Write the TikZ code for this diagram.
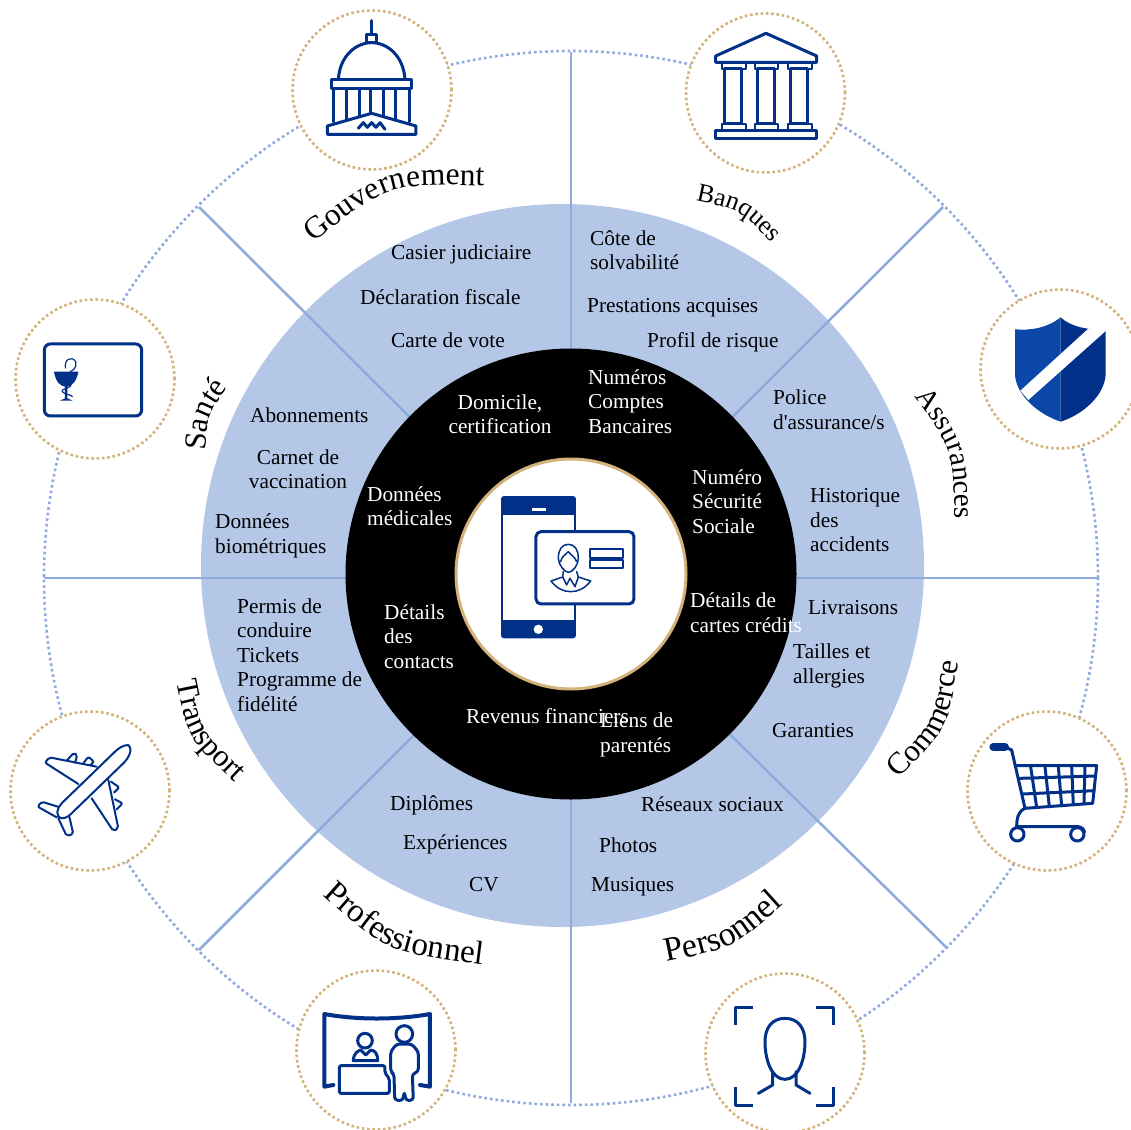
\documentclass[tikz,border=0pt]{standalone}
\usepackage{fontspec}
\setmainfont{Liberation Serif}[Ligatures=TeXOff]
\usetikzlibrary{decorations.text}
\definecolor{myblue1}{RGB}{180,199,231}
\definecolor{myblue2}{RGB}{143,170,220}
\definecolor{mynavy}{RGB}{0,48,135}
\definecolor{myroyal}{RGB}{10,71,169}
\definecolor{mygold}{RGB}{212,178,124}
\newcommand{\arcfont}[1]{\fontsize{#1}{#1}\selectfont}
\newcommand{\arclabel}[5]{\path[decorate,decoration={text along path,text align=center,text={|\arcfont{#1}|#5}}] #2 .. controls #3 .. #4;}

\begin{document}
\begin{tikzpicture}[x=1pt,y=-1pt,
spoke/.style={myblue2,line width=2.5pt},
disc/.style={circle,inner sep=0pt,outer sep=0pt},
badge/.style={disc,minimum size=159pt,fill=white,draw=mygold,line width=2.6pt,dash pattern=on 2.6pt off 2.7pt},
item/.style={anchor=west,inner sep=0pt,align=left,font=\fontsize{21.3}{24.5}\selectfont},
wbox/.style={item,text=white},
icon/.style={mynavy,line width=3pt,line join=round,line cap=round},
thin icon/.style={mynavy,line width=2pt,line join=round,line cap=round}]
\useasboundingbox (0,0) rectangle (1131,1129);

% spokes
\coordinate (hub) at (571,578);
\coordinate (inner) at (571,574);
\coordinate (spokeN) at (571,52);
\coordinate (spokeS) at (571,1103);
\coordinate (spokeW) at (44,578);
\coordinate (spokeE) at (1099,578);
\coordinate (spokeNW) at (199,207);
\coordinate (spokeNE) at (943,207);
\coordinate (spokeSW) at (199,950);
\coordinate (spokeSE) at (947,948);

% rings
\node[disc,minimum size=1054pt,draw=myblue2,line width=2.6pt,dash pattern=on 2.6pt off 3pt](outerring) at (hub){};
\node[disc,minimum size=723pt,fill=myblue1](bluedisc) at (562.5,565.5){};
\foreach \s in {N,S,W,E,NW,NE,SW,SE}
  \draw[spoke] (hub) -- (spoke\s);
\node[disc,minimum size=451pt,fill=black](blackdisc) at (inner){};
\node[disc,minimum size=230pt,fill=white,draw=mygold,line width=3pt](whitedisc) at (inner){};

% badges
\node[badge](bgov) at (372,90){};
\node[badge](bbank) at (765.5,93){};
\node[badge](bshield) at (1060,369){};
\node[badge](bcart) at (1047,791){};
\node[badge](bface) at (785,1053){};
\node[badge](bpro) at (376,1050){};
\node[badge](bplane) at (90,791){};
\node[badge](bhealth) at (95,379){};

% curved labels
\arclabel{31.5}{(310,245)}{(389,183)}{(488,186)}{Gouvernement}
\arclabel{26}{(693,200)}{(741,210)}{(774,245)}{Banques}
\arclabel{29}{(913,395)}{(953,448)}{(955,521)}{Assurances}
\arclabel{31}{(899,778)}{(948,728)}{(958,663)}{Commerce}
\arclabel{34}{(661,963)}{(735,948)}{(788,900)}{Personnel}
\arclabel{33}{(319,892)}{(386,952)}{(488,965)}{Professionnel}
\arclabel{31}{(176,678)}{(188,738)}{(237,785)}{Transport}
\arclabel{31}{(205,454)}{(208,414)}{(230,384)}{Santé}

% blue ring texts
\node[item](casier) at (391,254){Casier judiciaire};
\node[item](fiscale) at (360,297){Déclaration fiscale};
\node[item](vote) at (391,340){Carte de vote};
\node[item](cote) at (590,250){Côte de\\solvabilité};
\node[item](prestations) at (587,308){Prestations acquises};
\node[item](risque) at (647,342){Profil de risque};
\node[item](police) at (773,409.5){Police\\d'assurance/s};
\node[item](historique) at (810,520.5){Historique\\des\\accidents};
\node[item](livraisons) at (808,607.5){Livraisons};
\node[item](tailles) at (793,666){Tailles et\\allergies};
\node[item](garanties) at (772,731){Garanties};
\node[item](reseaux) at (641,804){Réseaux sociaux};
\node[item](photos) at (599,845){Photos};
\node[item](musiques) at (591,887){Musiques};
\node[item](diplomes) at (390,805){Diplômes};
\node[item](experiences) at (403,844){Expériences};
\node[item](cv) at (469,885){CV};
\node[item](permis) at (237,655){Permis de\\conduire\\Tickets\\Programme de\\fidélité};
\node[item](abonnements) at (250,415){Abonnements};
\node[item,anchor=center,align=center](carnet) at (298,469){Carnet de\\vaccination};
\node[item](biometriques) at (215,536){Données\\biométriques};

% black ring texts
\node[wbox,anchor=center,align=center](domicile) at (500,414){Domicile,\\certification};
\node[wbox](comptes) at (588,401.5){Numéros\\Comptes\\Bancaires};
\node[wbox](secu) at (692,501.5){Numéro\\Sécurité\\Sociale};
\node[wbox](cartes) at (690,612.5){Détails de\\cartes crédits};
\node[wbox](revenus) at (466,716){Revenus financiers};
\node[wbox](liens) at (600,735){Liens de\\parentés};
\node[wbox](contacts) at (384,636.5){Détails\\des\\contacts};
\node[wbox](medicales) at (367,506){Données\\médicales};

% government
\begin{scope}[shift={(280,0)},scale=0.3333]
\draw[icon] (275,62) -- (275,100);
\draw[icon] (260,128) rectangle (290,103);
\draw[icon] (175,238) .. controls (180,165) and (230,128) .. (275,128) .. controls (320,128) and (370,165) .. (375,238);
\draw[icon] (155,240) rectangle (395,265);
\foreach \x in {162,200,238,272,310,348,388}
  \draw[icon] (\x,265) -- (\x,365);
\draw[icon,fill=white] (142,378) -- (275,340) -- (408,378) -- (408,403) -- (142,403) -- cycle;
\draw[icon] (235,385) -- (250,368) -- (262,382) -- (275,368) -- (288,382) -- (300,368) -- (315,388);
\end{scope}

% bank
\begin{scope}[shift={(670,0)},scale=0.3333]
\draw[icon] (137,168) -- (288,100) -- (440,168) -- (440,187) -- (137,187) -- cycle;
\foreach \x in {157,254,355}{
  \draw[thin icon] (\x,187) rectangle (\x+70,207);
  \draw[icon] (\x+7,207) rectangle (\x+58,372);
  \draw[thin icon] (\x,372) rectangle (\x+70,392);
}
\draw[icon] (137,392) rectangle (440,415);
\end{scope}

% shield
\begin{scope}[shift={(960,280)},scale=0.3333]
\fill[myroyal] (302,112) .. controls (260,145) and (210,152) .. (165,148) -- (165,285) .. controls (170,350) and (240,405) .. (302,425) -- cycle;
\fill[mynavy] (302,112) .. controls (330,140) and (390,152) .. (437,148) -- (437,285) .. controls (432,350) and (365,405) .. (302,425) -- cycle;
\fill[white] (385,146) -- (445,146) -- (205,360) -- (181,332) -- cycle;
\end{scope}

% cart
\begin{scope}[shift={(960,700)},scale=0.3333]
\draw[mynavy,line width=8pt,line cap=round] (100,141) -- (135,141);
\draw[icon] (135,141) -- (155,150) -- (195,325) .. controls (172,335) and (170,360) .. (170,380) -- (355,380) .. controls (368,382) and (372,390) .. (374,396);
\draw[icon] (170,197) -- (410,197) -- (398,310) -- (195,325);
\draw[icon] (180,235) -- (407,228);
\draw[icon] (190,282) -- (403,272);
\draw[icon] (212,200) -- (230,322);
\draw[icon] (255,200) -- (268,320);
\draw[icon] (295,200) -- (305,318);
\draw[icon] (335,200) -- (340,313);
\draw[icon] (375,200) -- (372,310);
\draw[icon,fill=white] (172,403) circle (20);
\draw[icon,fill=white] (352,403) circle (20);
\end{scope}

% face
\begin{scope}[shift={(700,970)},scale=0.3333]
\draw[icon,line cap=butt] (160,112) -- (105,112) -- (105,165);
\draw[icon,line cap=butt] (347,112) -- (402,112) -- (402,165);
\draw[icon,line cap=butt] (105,352) -- (105,406) -- (160,406);
\draw[icon,line cap=butt] (402,352) -- (402,406) -- (347,406);
\draw[icon] (255,145) .. controls (215,145) and (195,175) .. (195,215) .. controls (195,270) and (215,328) .. (255,328) .. controls (295,328) and (315,270) .. (315,215) .. controls (315,175) and (295,145) .. (255,145) -- cycle;
\draw[icon] (218,305) -- (218,345) -- (175,370);
\draw[icon] (288,305) -- (288,345) -- (330,370);
\end{scope}

% professional
\begin{scope}[shift={(290,970)},scale=0.3333]
\draw[mynavy,line width=4pt,line join=round,line cap=round] (130,345) -- (103,350) -- (103,132) .. controls (200,150) and (320,150) .. (420,132) -- (420,350) -- (390,345);
\draw[icon] (225,212) circle (22);
\draw[icon] (190,272) .. controls (190,250) and (205,242) .. (212,240) -- (227,255) -- (242,240) .. controls (255,242) and (263,250) .. (263,272) -- cycle;
\draw[icon,fill=white,rounded corners=2pt] (148,287) -- (285,287) -- (285,310) -- (298,325) -- (298,370) -- (148,370) -- cycle;
\draw[icon] (343,192) circle (25);
\draw[icon,fill=white,rounded corners=3pt] (302,245) -- (320,222) -- (365,222) -- (385,245) -- (385,305) -- (367,312) -- (370,390) -- (348,392) -- (343,365) -- (338,392) -- (314,390) -- (312,312) -- (302,305) -- cycle;
\end{scope}

% plane
\begin{scope}[shift={(0,700)},scale=0.3333]
\draw[thin icon,rounded corners=2pt] (290,200) -- (148,172) -- (135,188) -- (235,252);
\draw[thin icon,rounded corners=2pt] (325,240) -- (355,385) -- (340,393) -- (275,295);
\draw[thin icon,rounded corners=2pt] (200,182) -- (222,158) -- (232,165) -- (225,188);
\draw[thin icon,rounded corners=2pt] (250,190) -- (265,170) -- (282,185) -- (272,195);
\draw[thin icon,rounded corners=2pt] (333,245) -- (358,262) -- (342,278);
\draw[thin icon,rounded corners=2pt] (345,298) -- (368,310) -- (350,328);
\draw[thin icon,rounded corners=2pt] (180,322) -- (125,305) -- (113,320) -- (170,352);
\draw[thin icon,rounded corners=2pt] (175,355) -- (200,408) -- (220,402) -- (208,350);
\draw[thin icon,fill=white] (385,135) .. controls (370,135) and (355,145) .. (345,155) -- (185,310) .. controls (170,325) and (165,350) .. (185,355) .. controls (200,355) and (210,345) .. (220,335) -- (370,190) .. controls (385,175) and (400,150) .. (385,135) -- cycle;
\end{scope}

% health card
\begin{scope}[shift={(5,290)},scale=0.3333]
\draw[icon,rounded corners=6pt] (118,162) rectangle (410,378);
\fill[mynavy] (147,245) -- (220,245) .. controls (215,275) and (200,288) .. (187,290) -- (187,325) -- (203,332) -- (165,332) -- (180,325) -- (180,290) .. controls (165,288) and (152,275) .. (147,245) -- cycle;
\draw[mynavy,line width=1.2pt] (182,235) .. controls (175,210) and (200,195) .. (212,215) .. controls (216,235) and (205,240) .. (195,245);
\draw[mynavy,line width=1.2pt] (195,278) .. controls (210,295) and (165,295) .. (172,305) .. controls (180,315) and (195,312) .. (203,320);
\end{scope}

% phone and card
\begin{scope}[shift={(450,455)},scale=0.3333]
\fill[mynavy,rounded corners=3pt] (153,123) rectangle (378,550);
\fill[white] (160,180) rectangle (372,495);
\fill[white] (245,158) rectangle (287,168);
\fill[white] (265,523) circle (14);
\draw[icon,fill=white,rounded corners=5pt] (258,230) rectangle (552,447);
\draw[thin icon] (420,282) rectangle (520,308);
\draw[thin icon] (420,314) rectangle (520,340);
\draw[thin icon,line width=1.5pt] (355,268) .. controls (335,268) and (325,285) .. (325,310) .. controls (325,330) and (345,352) .. (355,352) .. controls (368,352) and (385,330) .. (385,310) .. controls (385,285) and (375,268) .. (355,268) -- cycle;
\draw[thin icon,line width=1.5pt] (332,320) .. controls (335,305) and (345,300) .. (355,290) .. controls (362,300) and (375,305) .. (380,320);
\draw[thin icon,line width=1.5pt] (340,350) -- (338,366) -- (303,378) .. controls (320,400) and (340,410) .. (362,410) .. controls (385,410) and (405,400) .. (422,378) -- (385,366) -- (380,350);
\draw[thin icon,line width=1.5pt] (338,366) -- (350,390) -- (360,370) -- (375,395) -- (385,366);
\end{scope}

\end{tikzpicture}
\end{document}
